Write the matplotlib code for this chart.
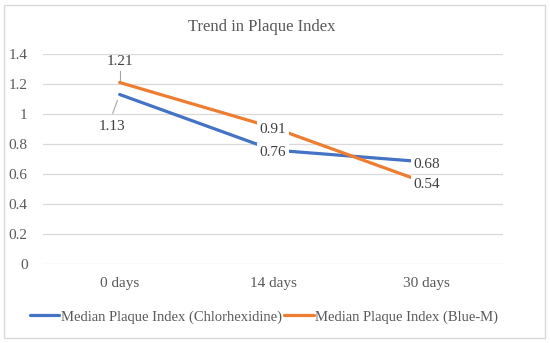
import matplotlib
matplotlib.use("Agg")
import matplotlib.pyplot as plt
from matplotlib.patches import Rectangle

# data
days = ["0 days", "14 days", "30 days"]
chx = [1.13, 0.76, 0.68]
bluem = [1.21, 0.91, 0.54]
yticks = [0, 0.2, 0.4, 0.6, 0.8, 1.0, 1.2, 1.4]
ylabels = ["0", "0.2", "0.4", "0.6", "0.8", "1", "1.2", "1.4"]

plt.rcParams['font.family'] = ['Liberation Serif', 'DejaVu Serif']
txt = '#595959'
blue = '#4472C4'
orange = '#ED7D31'

W, H = 550, 343
fig = plt.figure(figsize=(W / 100, H / 100), dpi=100)
ax = fig.add_axes([43 / W, 79 / H, 460 / W, 210 / H])

x = list(range(len(days)))
ax.plot(x, chx, color=blue, lw=2.3, solid_capstyle='round', label='Median Plaque Index (Chlorhexidine)')
ax.plot(x, bluem, color=orange, lw=2.3, solid_capstyle='round', label='Median Plaque Index (Blue-M)')

ax.set_xlim(-0.5, 2.5)
ax.set_ylim(0, 1.4)
ax.set_yticks(yticks)
ax.set_yticklabels(ylabels)
ax.set_xticks(x)
ax.set_xticklabels(days)
ax.grid(axis='y', color='#D9D9D9', lw=0.9)
ax.set_axisbelow(True)
for s in ax.spines.values():
    s.set_visible(False)
ax.tick_params(axis='y', length=0, pad=11, labelsize=11, labelcolor=txt)
ax.tick_params(axis='x', length=0, pad=9, labelsize=11, labelcolor=txt)

# data labels
lab = dict(fontsize=11, color='#404040', ha='center', va='center', textcoords='offset pixels')
ax.annotate(f"{bluem[0]:.2f}", (0, bluem[0]), xytext=(0, 21), **lab)
ax.plot([0, 0], [bluem[0] + 0.015, bluem[0] + 0.08], color='#A6A6A6', lw=0.8)
ax.annotate(f"{chx[0]:.2f}", (0, chx[0]), xytext=(-8, -32), **lab)
ax.plot([-0.015, -0.045], [chx[0] - 0.04, chx[0] - 0.125], color='#A6A6A6', lw=0.8)
box = dict(boxstyle='square,pad=0.15', fc='white', ec='none')
for i in (1, 2):
    ax.annotate(f"{chx[i]:.2f}", (i, chx[i]), xytext=(0, -2), bbox=box, **lab)
    ax.annotate(f"{bluem[i]:.2f}", (i, bluem[i]), xytext=(0, -2), bbox=box, **lab)

fig.text(262 / W, 1 - 27 / H, "Trend in Plaque Index", ha='center', va='center',
         fontsize=12, color=txt)

fig.legend(loc='center', bbox_to_anchor=(264 / W, 1 - 317 / H), ncol=2, frameon=False,
           fontsize=10.5, handlelength=2.0, handletextpad=0.1, columnspacing=0.2,
           labelcolor=txt)

fig.patches.append(Rectangle((4 / W, 5 / H), 541 / W, 333 / H, transform=fig.transFigure,
                             fill=False, ec='#D9D9D9', lw=1))

fig.savefig("out.png", dpi=100, facecolor='white')
